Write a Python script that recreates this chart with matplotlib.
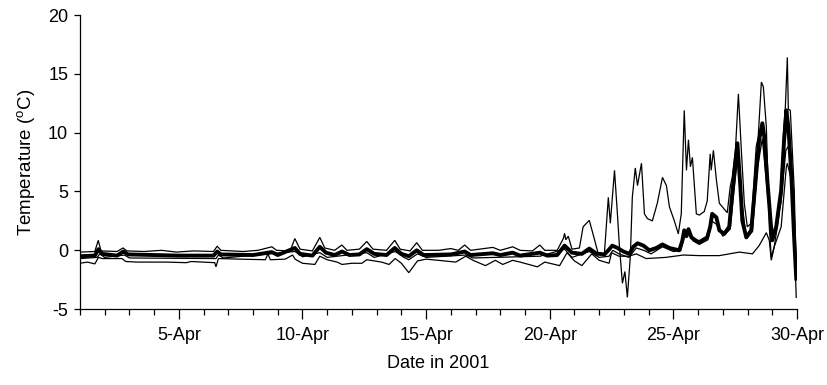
import matplotlib
matplotlib.use("Agg")
import matplotlib.pyplot as plt
from matplotlib.ticker import MultipleLocator, FuncFormatter

plt.rcParams['font.family'] = ['Liberation Sans', 'DejaVu Sans']
plt.rcParams['mathtext.default'] = 'regular'
plt.rcParams['axes.unicode_minus'] = False

# Day of April 2001 (fractional) and temperature (deg C)
# s1: thin line with the largest peaks
s1_day = [1.0, 1.6, 1.74, 1.85, 2.5, 2.74, 2.9, 3.6, 4.3, 4.9, 5.6, 6.4, 6.55, 6.7, 7.6, 8.2,
          8.76, 8.95, 9.5, 9.69, 9.9, 10.4, 10.7, 10.9, 11.3, 11.59, 11.8, 12.3, 12.6, 12.85,
          13.4, 13.73, 13.95, 14.35, 14.62, 14.85, 15.5, 16.0, 16.3, 16.56, 16.8, 17.7, 18.0,
          18.5, 18.8, 19.3, 19.6, 19.8, 20.3, 20.55, 20.6, 20.65, 20.75, 20.9, 21.2, 21.35,
          21.6, 21.8, 21.95,
          22.01, 22.21, 22.37, 22.45, 22.62, 22.74, 22.82, 22.94, 23.04, 23.14, 23.26, 23.34,
          23.46, 23.55, 23.71, 23.83, 23.95, 24.15, 24.35, 24.56, 24.72, 24.84, 25.04, 25.20,
          25.32, 25.44, 25.53, 25.61, 25.69, 25.77, 25.93, 26.05, 26.25, 26.37, 26.49, 26.53,
          26.62, 26.74, 26.86, 26.98, 27.18, 27.30, 27.38, 27.51, 27.63, 27.75, 27.87, 27.99,
          28.15, 28.35, 28.43, 28.56, 28.64, 28.76, 28.88, 28.96, 29.08, 29.28, 29.44, 29.53,
          29.61, 29.65, 29.73, 29.89, 29.97]
s1_temp = [-0.15, -0.1, 0.85, -0.05, -0.1, 0.2, -0.05, -0.1, 0.0, -0.15, -0.05, -0.1, 0.35, 0.0,
           -0.1, 0.0, 0.3, 0.0, -0.05, 1.0, 0.1, -0.05, 1.1, 0.2, 0.0, 0.45, 0.0, 0.1, 0.75, 0.1,
           0.0, 0.85, 0.1, -0.05, 0.65, 0.0, 0.0, 0.15, 0.0, 0.45, 0.0, 0.25, 0.0, 0.3, 0.0,
           -0.05, 0.45, 0.0, 0.0, 1.0, 1.45, 0.9, 1.2, 0.1, 0.2, 2.0, 2.55, 1.0, -0.2,
           -0.25, -0.3, 4.5, 2.3, 6.8, 3.0, 0.3, -2.8, -1.8, -4.0, -0.5, 4.5,
           7.0, 5.5, 7.4, 3.1, 2.7, 2.5, 4.0, 6.2, 5.5, 3.7, 2.5, 1.4,
           3.1, 11.9, 6.8, 9.4, 7.1, 7.9, 3.1, 3.0, 3.3, 4.2, 8.2, 6.8,
           8.5, 6.0, 4.0, 3.7, 3.2, 5.4, 6.2, 8.5, 13.3, 8.5, 4.0, 2.0,
           2.3, 8.8, 9.6, 14.3, 13.9, 10.5, 2.0, -0.6, 0.3, 3.1, 9.4, 12.2,
           16.4, 12.0, 11.9, 5.1, -2.0]

# s2: thick line
s2_day = [1.0, 1.6, 1.75, 1.9, 2.5, 2.75, 2.95, 4.0, 5.0, 6.4, 6.55, 6.7, 8.0, 8.76, 9.0, 9.69,
          9.9, 10.4, 10.7, 10.95, 11.3, 11.6, 11.9, 12.3, 12.6, 12.9, 13.4, 13.73, 14.0, 14.3,
          14.62, 14.9, 16.0, 16.56, 16.8, 17.7, 18.0, 18.5, 18.8, 19.6, 19.9, 20.3, 20.6, 20.9,
          21.3, 21.6, 21.9,
          22.01, 22.21, 22.37, 22.53, 22.74, 22.98, 23.22, 23.38, 23.55, 23.79, 24.03, 24.31,
          24.56, 24.84, 25.24, 25.36, 25.44, 25.53, 25.61, 25.73, 25.93, 26.05, 26.37, 26.49,
          26.57, 26.74, 26.86, 27.06, 27.26, 27.38, 27.59, 27.71, 27.79, 27.95, 28.15, 28.35,
          28.47, 28.60, 28.68, 28.80, 28.92, 29.00, 29.16, 29.36, 29.48, 29.57, 29.65, 29.77,
          29.89, 29.97]
s2_temp = [-0.5, -0.45, 0.1, -0.3, -0.45, -0.1, -0.35, -0.4, -0.45, -0.45, -0.1, -0.35, -0.4,
           -0.15, -0.4, 0.2, -0.3, -0.45, 0.3, -0.2, -0.4, -0.1, -0.4, -0.35, 0.1, -0.3, -0.4,
           0.2, -0.3, -0.5, 0.0, -0.4, -0.35, -0.1, -0.4, -0.25, -0.4, -0.2, -0.45, -0.2, -0.45,
           -0.4, 0.4, -0.2, -0.3, 0.15, -0.3,
           -0.3, -0.35, 0.0, 0.4, 0.2, -0.1, -0.3, 0.3, 0.6, 0.4, 0.0, 0.2,
           0.5, 0.2, 0.0, 0.8, 1.7, 1.2, 1.8, 1.1, 0.8, 0.7, 1.1, 2.0,
           3.1, 2.8, 1.7, 1.4, 2.0, 4.8, 9.1, 5.4, 2.5, 1.1, 1.7, 6.5,
           9.4, 10.8, 9.6, 6.0, 2.8, 0.85, 2.0, 5.1, 9.4, 11.9, 10.5, 6.5,
           0.85, -2.4]

# s3: thin line just under the thick one
s3_day = [1.0, 1.7, 1.8, 2.0, 2.8, 3.0, 6.5, 6.6, 6.8, 9.7, 10.0, 10.7, 11.0, 12.6, 12.9, 13.75,
          14.1, 14.3, 14.65, 15.0, 16.6, 16.9, 19.6, 20.6, 20.9, 21.6, 22.0, 22.4, 22.55, 22.8,
          23.2, 23.5, 23.8, 24.1, 24.56, 25.0, 25.3, 25.45, 25.6, 25.8, 26.05, 26.4, 26.55,
          26.75, 27.0, 27.3, 27.45, 27.6, 27.75, 27.95, 28.2, 28.4, 28.6, 28.8, 28.96, 29.1,
          29.35, 29.55, 29.7, 29.85, 29.97]
s3_temp = [-0.7, -0.6, -0.3, -0.6, -0.4, -0.65, -0.7, -0.4, -0.65, -0.1, -0.55, -0.2, -0.6,
           -0.2, -0.6, -0.1, -0.6, -0.8, -0.3, -0.6, -0.4, -0.65, -0.5, 0.1, -0.6, -0.1, -0.6,
           -0.5, 0.0, -0.3, -0.6, 0.2, 0.0, -0.3, 0.3, -0.1, 0.0, 1.2, 1.5, 0.8, 0.5, 0.9, 2.5,
           2.2, 1.2, 1.8, 5.0, 8.0, 4.5, 1.0, 1.6, 7.0, 9.5, 5.0, 1.5, 1.5,
           4.0, 8.5, 9.0, 3.0, -2.0]

# s4: lowest thin line
s4_day = [1.0, 1.3, 1.6, 1.75, 1.9, 2.7, 2.85, 3.3, 4.5, 5.3, 5.5, 6.45, 6.5, 6.6, 7.5, 8.5,
          8.6, 8.7, 9.3, 9.6, 9.7, 10.0, 10.5, 10.7, 11.0, 11.4, 11.6, 12.0, 12.4, 12.6, 13.2,
          13.5, 13.75, 14.0, 14.3, 14.65, 15.0, 15.5, 16.2, 16.6, 16.9, 17.4, 17.8, 18.1, 18.5,
          18.8, 19.5, 19.8, 20.4, 20.7, 21.0, 21.3, 21.7, 22.0, 22.4, 22.5, 22.8, 23.2, 23.5,
          23.9, 24.7, 25.4, 26.05, 26.86, 27.67, 28.2, 28.47, 28.76, 28.88, 28.96, 29.08, 29.36,
          29.57, 29.61, 29.77, 29.89, 29.97]
s4_temp = [-1.1, -1.0, -1.15, -0.6, -0.7, -0.7, -0.95, -1.0, -1.0, -1.05, -0.95, -1.05, -1.4,
           -0.7, -0.75, -0.8, -0.3, -0.8, -0.75, -0.4, -0.75, -1.1, -1.2, -0.5, -0.8, -1.0,
           -1.2, -1.1, -1.1, -0.8, -1.0, -1.2, -0.7, -1.1, -1.9, -0.9, -0.75, -0.85, -1.0, -0.5,
           -0.85, -1.3, -0.85, -1.2, -0.85, -1.0, -1.4, -1.0, -1.3, -0.2, -0.9, -1.3, -0.3,
           -0.85, -1.1, -0.2, -0.5, -0.5, -0.3, -0.7, -0.6, -0.4, -0.45, -0.45, -0.15, -0.3,
           0.4, 1.5, 0.85, -0.85, 0.3, 2.0, 7.1, 7.4, 6.0, 1.0, -4.0]

x_major = [5, 10, 15, 20, 25, 30]
x_month = "Apr"

fig = plt.figure(figsize=(8.27, 3.85), dpi=100)
ax = fig.add_axes([0.0967, 0.197, 0.867, 0.764])

for d, t in [(s4_day, s4_temp), (s3_day, s3_temp), (s1_day, s1_temp)]:
    ax.plot(d, t, color='black', lw=0.9, solid_joinstyle='miter')
ax.plot(s2_day, s2_temp, color='black', lw=2.8)

ax.set_xlim(1, 30)
ax.set_ylim(-5, 20)
ax.set_xticks(x_major)
ax.xaxis.set_major_formatter(FuncFormatter(lambda v, p: f"{int(round(v))}-{x_month}"))
ax.xaxis.set_minor_locator(MultipleLocator(1))
ax.yaxis.set_major_locator(MultipleLocator(5))

for s in ['top', 'right']:
    ax.spines[s].set_visible(False)
for s in ['left', 'bottom']:
    ax.spines[s].set_linewidth(0.9)

ax.tick_params(axis='x', which='major', direction='out', length=7.5, width=0.9, labelsize=13, pad=5)
ax.tick_params(axis='x', which='minor', direction='out', length=4.5, width=0.9)
ax.tick_params(axis='y', which='major', direction='out', length=4.5, width=0.9, labelsize=13, pad=4)

ax.set_xlabel("Date in 2001", fontsize=13, labelpad=8)
ax.set_ylabel("Temperature ($^{o}$C)", fontsize=13.5, labelpad=8)

fig.savefig("out.png", dpi=100)
